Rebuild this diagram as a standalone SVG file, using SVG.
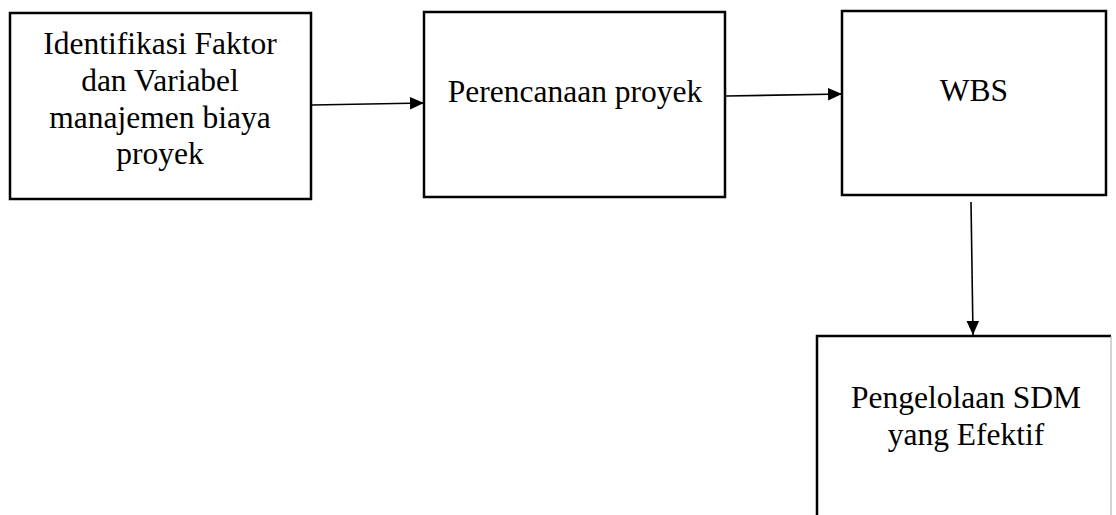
<svg xmlns="http://www.w3.org/2000/svg" width="1116" height="515" viewBox="0 0 1116 515">
<style>
.box{fill:#fff;stroke:#000;stroke-width:2.5}
.t{font-family:"Liberation Serif","Times New Roman",serif;font-size:31.5px;fill:#000;text-anchor:middle}
.c{stroke:#000;stroke-width:1.6;fill:none}
</style>
<defs>
<marker id="ah" viewBox="0 0 10 10" refX="10" refY="5" markerWidth="14" markerHeight="14" markerUnits="userSpaceOnUse" orient="auto">
<path d="M0,0.5 L10,5 L0,9.5 Z" fill="#000"/>
</marker>
</defs>
<rect width="1116" height="515" fill="#fff"/>
<g id="n1">
<rect class="box" x="10" y="13" width="301" height="186"/>
<text class="t" x="160" y="54">Identifikasi Faktor</text>
<text class="t" x="160" y="91">dan Variabel</text>
<text class="t" x="160" y="128">manajemen biaya</text>
<text class="t" x="160" y="164">proyek</text>
</g>
<g id="n2">
<rect class="box" x="424" y="12" width="301" height="185"/>
<text class="t" x="575" y="102">Perencanaan proyek</text>
</g>
<g id="n3">
<rect class="box" x="842" y="11" width="264" height="184"/>
<text class="t" x="974" y="101">WBS</text>
</g>
<g id="n4">
<path d="M817,520 L817,336 L1111,336" fill="none" stroke="#000" stroke-width="2.5"/>
<line x1="1111" y1="336" x2="1111" y2="520" stroke="#aaa" stroke-width="1"/>
<text class="t" x="966" y="408">Pengelolaan SDM</text>
<text class="t" x="966" y="445">yang Efektif</text>
</g>
<g id="connectors">
<line class="c" x1="312" y1="105" x2="424" y2="103" marker-end="url(#ah)"/>
<line class="c" x1="726" y1="96" x2="842" y2="94" marker-end="url(#ah)"/>
<line class="c" x1="971" y1="202" x2="973" y2="335" marker-end="url(#ah)"/>
</g>
</svg>
